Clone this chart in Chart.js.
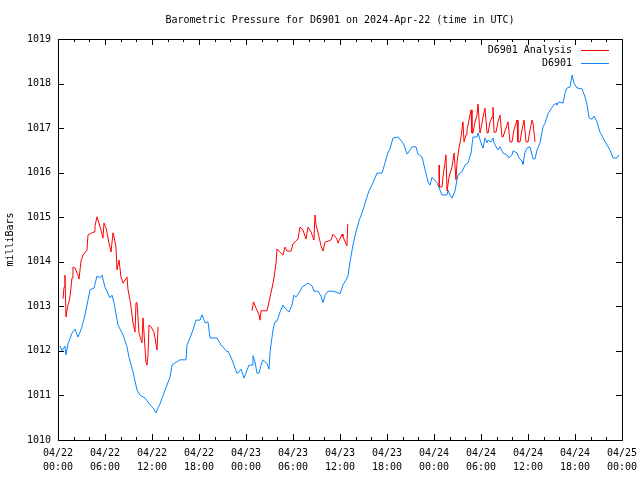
<!DOCTYPE html>
<html>
<head>
<meta charset="utf-8">
<title>Barometric Pressure D6901</title>
<script src="https://cdn.jsdelivr.net/npm/chart.js"></script>
<style>
  html, body { margin: 0; padding: 0; background: #fff; }
</style>
</head>
<body>
<canvas id="baroChart" width="640" height="480"></canvas>
<script>
// tick labels for the time axis (hours since 04/22 00:00 UTC, every 6 h)
var dateLabels = ['04/22', '04/22', '04/22', '04/22', '04/23', '04/23', '04/23', '04/23', '04/24', '04/24', '04/24', '04/24', '04/25']
var timeLabels = ['00:00', '06:00', '12:00', '18:00', '00:00', '06:00', '12:00', '18:00', '00:00', '06:00', '12:00', '18:00', '00:00']

// D6901 observed pressure (hours, mBar)
var obsHours = [0.26,0.51,0.89,1.02,1.28,1.79,2.17,2.55,2.81,3.06,
  3.45,4.09,4.60,4.98,5.36,5.62,6.00,6.64,6.89,7.15,
  7.66,8.30,8.81,9.06,9.57,10.09,10.47,11.11,11.75,12.13,
  12.51,12.77,13.02,13.66,14.30,14.55,14.94,15.58,16.34,16.47,
  16.85,17.23,17.62,18.13,18.38,18.77,19.15,19.41,20.30,20.81,
  21.06,21.57,21.70,22.21,22.85,22.98,23.36,23.75,24.13,24.38,
  24.77,24.89,25.15,25.41,25.66,25.92,26.17,26.68,26.94,27.07,
  27.45,27.70,27.96,28.34,28.72,28.98,29.24,29.49,29.87,30.13,
  30.38,30.77,31.15,31.92,32.43,32.68,33.19,33.58,33.83,34.09,
  34.47,35.11,35.49,36.00,36.38,36.77,37.02,37.28,37.66,38.04,
  38.43,38.94,39.32,39.70,40.21,40.72,41.36,41.75,42.13,42.38,
  42.77,43.41,43.92,44.17,44.55,44.68,45.19,45.70,45.96,46.47,
  46.72,47.24,47.49,47.75,48.39,48.77,49.02,49.66,49.79,50.04,
  50.30,50.68,50.94,51.07,51.58,51.96,52.34,52.73,52.98,53.49,
  53.62,54.00,54.26,54.51,54.77,54.90,55.28,55.53,55.66,55.92,
  56.17,56.43,56.81,57.32,57.58,57.96,58.09,58.60,58.85,59.24,
  59.36,59.62,59.87,60.26,60.64,60.90,61.15,61.53,61.92,62.17,
  62.56,62.94,63.19,63.58,63.70,63.96,64.47,64.73,64.98,65.36,
  65.62,65.87,66.26,66.90,67.28,67.54,67.79,68.17,68.43,68.81,
  69.19,69.58,70.09,70.47,70.85,71.36,71.62]
var obsValues = [1012.11,1012.00,1012.11,1011.91,1012.16,1012.40,1012.49,1012.31,1012.42,1012.54,
  1012.81,1013.37,1013.41,1013.68,1013.64,1013.70,1013.43,1013.19,1013.25,1013.08,
  1012.58,1012.36,1012.09,1011.86,1011.53,1011.12,1011.01,1010.94,1010.79,1010.72,
  1010.61,1010.72,1010.81,1011.12,1011.41,1011.68,1011.73,1011.80,1011.80,1012.13,
  1012.29,1012.47,1012.69,1012.69,1012.81,1012.63,1012.65,1012.29,1012.29,1012.13,
  1012.09,1011.98,1012.00,1011.80,1011.50,1011.50,1011.59,1011.39,1011.57,1011.68,
  1011.68,1011.89,1011.75,1011.50,1011.50,1011.68,1011.80,1011.71,1011.59,1011.98,
  1012.47,1012.65,1012.67,1012.87,1013.03,1012.96,1012.92,1012.87,1013.03,1013.25,
  1013.21,1013.30,1013.43,1013.52,1013.46,1013.34,1013.34,1013.23,1013.08,1013.25,
  1013.34,1013.34,1013.32,1013.28,1013.48,1013.59,1013.68,1014.00,1014.38,1014.67,
  1014.92,1015.16,1015.39,1015.59,1015.77,1015.99,1015.99,1016.22,1016.46,1016.53,
  1016.78,1016.80,1016.69,1016.62,1016.42,1016.44,1016.58,1016.58,1016.42,1016.35,
  1016.17,1015.79,1015.72,1015.90,1015.77,1015.61,1015.50,1015.50,1015.61,1015.50,
  1015.43,1015.59,1015.84,1015.95,1016.02,1016.17,1016.22,1016.44,1016.80,1016.80,
  1016.89,1016.67,1016.55,1016.78,1016.67,1016.73,1016.69,1016.78,1016.67,1016.58,
  1016.51,1016.58,1016.44,1016.40,1016.33,1016.40,1016.49,1016.44,1016.33,1016.26,
  1016.19,1016.46,1016.55,1016.58,1016.31,1016.31,1016.51,1016.67,1017.03,1017.11,
  1017.32,1017.43,1017.50,1017.56,1017.52,1017.59,1017.56,1017.79,1017.90,1017.92,
  1018.19,1018.01,1017.90,1017.88,1017.70,1017.52,1017.23,1017.20,1017.27,1017.14,
  1016.91,1016.78,1016.62,1016.51,1016.33,1016.33,1016.40]

// D6901 Analysis (null = no analysis, breaks the line)
var anaHours = [0.64,0.77,0.89,1.02,1.15,1.28,1.53,1.79,1.91,2.17,
  2.55,2.68,2.94,3.19,3.70,3.83,4.34,4.60,4.72,4.98,
  5.23,5.49,5.74,5.87,6.13,6.26,6.51,6.77,7.02,7.15,
  7.40,7.53,7.79,8.04,8.30,8.81,8.94,9.19,9.32,9.57,
  9.83,9.96,10.09,10.34,10.72,10.85,11.23,11.36,11.49,11.62,
  11.87,12.26,12.64,12.77,
  18.00,
  24.77,24.96,25.28,25.66,25.79,25.92,26.68,26.94,27.32,27.58,
  27.83,27.96,28.21,28.72,28.98,29.24,29.75,30.00,30.38,30.64,
  30.89,31.28,31.66,31.92,32.30,32.68,32.81,32.94,33.32,33.58,
  33.83,34.09,34.60,34.85,35.11,35.62,35.75,36.26,36.38,36.89,
  36.99,
  42.00,
  48.64,48.68,49.02,49.15,49.53,49.66,49.92,50.30,50.56,50.81,
  50.94,51.19,51.45,51.70,51.83,52.09,52.21,52.47,52.73,52.85,
  52.98,53.24,53.49,53.62,53.87,54.13,54.26,54.51,54.77,54.90,
  55.15,55.41,55.53,55.66,55.92,56.17,56.43,56.68,56.81,57.19,
  57.45,57.70,57.96,58.21,58.60,58.72,58.98,59.24,59.49,59.75,
  60.00,60.26,60.51,60.64,60.90]
var anaValues = [1013.17,1013.43,1013.70,1012.76,1012.92,1013.03,1013.21,1013.64,1013.88,1013.86,
  1013.70,1013.61,1014.02,1014.15,1014.26,1014.60,1014.65,1014.67,1014.80,1015.01,
  1014.87,1014.71,1014.53,1014.87,1014.76,1014.65,1014.42,1014.22,1014.65,1014.56,
  1014.33,1013.82,1014.04,1013.66,1013.52,1013.66,1013.37,1013.14,1012.99,1012.63,
  1012.42,1013.08,1013.08,1012.40,1012.18,1012.74,1011.75,1011.68,1011.91,1012.58,
  1012.54,1012.42,1012.02,1012.54,
  null,
  1012.90,1013.10,1012.96,1012.81,1012.69,1012.90,1012.90,1013.10,1013.41,1013.64,
  1013.97,1014.29,1014.24,1014.15,1014.33,1014.24,1014.24,1014.40,1014.47,1014.51,
  1014.78,1014.71,1014.51,1014.78,1014.67,1014.49,1015.05,1014.83,1014.56,1014.36,
  1014.24,1014.44,1014.47,1014.49,1014.62,1014.51,1014.42,1014.62,1014.56,1014.36,
  1014.85,
  null,
  1016.17,1015.68,1015.68,1015.90,1016.40,1015.59,1015.90,1016.13,1016.44,1015.84,
  1016.24,1016.55,1016.80,1017.14,1016.69,1016.85,1016.96,1017.18,1017.41,1016.89,
  1016.89,1017.14,1017.29,1017.54,1016.89,1017.11,1017.25,1017.45,1016.89,1016.89,
  1017.14,1017.25,1017.47,1016.91,1016.91,1017.14,1017.29,1016.80,1016.80,1017.00,
  1017.14,1016.69,1016.69,1016.96,1017.18,1016.69,1016.69,1016.96,1017.18,1016.69,
  1016.69,1016.96,1017.18,1017.11,1016.69]

function toPoints(xs, ys) {
    var pts = []
    for (var i = 0; i < xs.length; i++) pts.push({x: xs[i], y: ys[i]})
    return pts
}

var MINOR_STEP = 2   // hours between minor ticks on the time axis

// gnuplot style frame: full box with inward ticks, and the key inside top right
var gnuFrame = {
    id: 'gnuFrame',
    afterLayout: function(chart) {
        // centre the title over the plot area, like gnuplot does
        if (chart.titleBlock) {
            chart.titleBlock.left = chart.chartArea.left
            chart.titleBlock.right = chart.chartArea.right
        }
    },
    afterDatasetsDraw: function(chart) {
        var ctx = chart.ctx
        var a = chart.chartArea
        var xs = chart.scales.x
        var ys = chart.scales.y
        ctx.save()
        ctx.strokeStyle = '#000'
        ctx.lineWidth = 1
        ctx.beginPath()
        for (var h = xs.min; h <= xs.max; h += MINOR_STEP) {
            var px = Math.round(xs.getPixelForValue(h)) + 0.5
            var len = (h % 6 === 0) ? 6 : 3
            ctx.moveTo(px, a.bottom); ctx.lineTo(px, a.bottom - len)
            ctx.moveTo(px, a.top); ctx.lineTo(px, a.top + len)
        }
        ys.ticks.forEach(function(t) {
            var py = Math.round(ys.getPixelForValue(t.value)) + 0.5
            ctx.moveTo(a.left, py); ctx.lineTo(a.left + 6, py)
            ctx.moveTo(a.right, py); ctx.lineTo(a.right - 6, py)
        })
        ctx.stroke()
        ctx.strokeRect(Math.round(a.left) + 0.5, Math.round(a.top) + 0.5,
                       Math.round(a.right - a.left), Math.round(a.bottom - a.top))

        // key
        ctx.font = '10px "DejaVu Sans Mono"'
        ctx.textAlign = 'right'
        ctx.textBaseline = 'middle'
        chart.data.datasets.forEach(function(ds, i) {
            var y = a.top + 11 + i * 13
            ctx.fillStyle = '#000'
            ctx.fillText(ds.label, a.right - 50, y)
            ctx.strokeStyle = ds.borderColor
            ctx.beginPath()
            ctx.moveTo(a.right - 41, y + 0.5)
            ctx.lineTo(a.right - 13, y + 0.5)
            ctx.stroke()
        })
        ctx.restore()
    }
}

Chart.defaults.font.family = '"DejaVu Sans Mono", monospace'
Chart.defaults.font.size = 10
Chart.defaults.color = '#000'

var ctx = document.getElementById('baroChart').getContext('2d')
var baroChart = new Chart(ctx, {
    type: 'line',
    data: {
        datasets: [
            {
                label: 'D6901 Analysis',
                data: toPoints(anaHours, anaValues),
                borderColor: '#ff0000',
                borderWidth: 1,
                pointRadius: 0,
                spanGaps: false
            },
            {
                label: 'D6901',
                data: toPoints(obsHours, obsValues),
                borderColor: '#0a84ff',
                borderWidth: 1,
                pointRadius: 0
            }
        ]
    },
    options: {
        responsive: false,
        animation: false,
        layout: { padding: { left: 0, right: 18, top: 0, bottom: 0 } },
        plugins: {
            legend: { display: false },
            tooltip: { enabled: false },
            title: {
                display: true,
                text: 'Barometric Pressure for D6901 on 2024-Apr-22 (time in UTC)',
                font: { size: 10, weight: 'normal' },
                padding: { top: 14, bottom: 13 }
            }
        },
        scales: {
            x: {
                type: 'linear',
                min: 0,
                max: 72,
                grid: { display: false, drawTicks: false },
                border: { display: false },
                ticks: {
                    stepSize: 6,
                    autoSkip: false,
                    maxRotation: 0,
                    padding: 6,
                    font: { lineHeight: 1.4 },
                    callback: function(value) {
                        var i = Math.round(value / 6)
                        return [dateLabels[i], timeLabels[i]]
                    }
                },
                afterFit: function(scale) {
                    scale.height = 40
                    scale.paddingLeft = 0
                    scale.paddingRight = 0
                }
            },
            y: {
                min: 1010,
                max: 1019,
                grid: { display: false, drawTicks: false },
                border: { display: false },
                title: { display: true, text: 'milliBars', padding: { top: 4, bottom: 4 } },
                ticks: {
                    stepSize: 1,
                    padding: 7,
                    callback: function(value) { return value.toFixed(0) }
                },
                afterFit: function(scale) {
                    scale.width = 58
                    scale.paddingTop = 0
                    scale.paddingBottom = 0
                }
            }
        }
    },
    plugins: [gnuFrame]
})
</script>
</body>
</html>
